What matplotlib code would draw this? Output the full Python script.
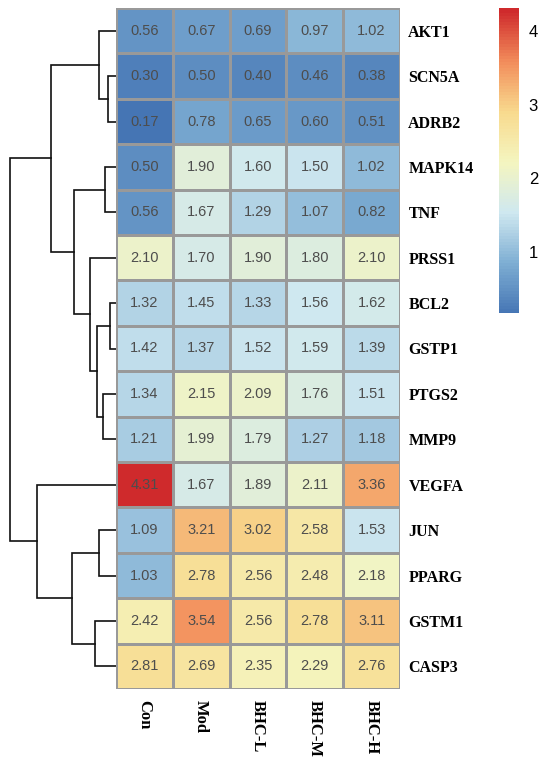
import numpy as np
import matplotlib
matplotlib.use("Agg")
import matplotlib.pyplot as plt
from matplotlib.colors import LinearSegmentedColormap

genes = ["AKT1", "SCN5A", "ADRB2", "MAPK14", "TNF", "PRSS1", "BCL2", "GSTP1",
         "PTGS2", "MMP9", "VEGFA", "JUN", "PPARG", "GSTM1", "CASP3"]
groups = ["Con", "Mod", "BHC-L", "BHC-M", "BHC-H"]

con = [0.56, 0.30, 0.17, 0.50, 0.56, 2.10, 1.32, 1.42, 1.34, 1.21, 4.31, 1.09, 1.03, 2.42, 2.81]
mod = [0.67, 0.50, 0.78, 1.90, 1.67, 1.70, 1.45, 1.37, 2.15, 1.99, 1.67, 3.21, 2.78, 3.54, 2.69]
bhc_l = [0.69, 0.40, 0.65, 1.60, 1.29, 1.90, 1.33, 1.52, 2.09, 1.79, 1.89, 3.02, 2.56, 2.56, 2.35]
bhc_m = [0.97, 0.46, 0.60, 1.50, 1.07, 1.80, 1.56, 1.59, 1.76, 1.27, 2.11, 2.58, 2.48, 2.78, 2.29]
bhc_h = [1.02, 0.38, 0.51, 1.02, 0.82, 2.10, 1.62, 1.39, 1.51, 1.18, 3.36, 1.53, 2.18, 3.11, 2.76]

# row clustering, read off the tree: (left node, right node, height)
# leaves are 0..14 in row order, merged nodes get ids 15, 16, ...
merges = [
    (1, 2, 0.075),     # 15 SCN5A-ADRB2
    (0, 15, 0.16),     # 16
    (3, 4, 0.10),      # 17 MAPK14-TNF
    (6, 7, 0.057),     # 18 BCL2-GSTP1
    (8, 9, 0.12),      # 19 PTGS2-MMP9
    (18, 19, 0.18),    # 20
    (5, 20, 0.25),     # 21
    (17, 21, 0.40),    # 22
    (16, 22, 0.61),    # 23
    (11, 12, 0.16),    # 24 JUN-PPARG
    (13, 14, 0.20),    # 25 GSTM1-CASP3
    (24, 25, 0.42),    # 26
    (10, 26, 0.75),    # 27
    (23, 27, 1.00),    # 28 root
]

data = np.array([con, mod, bhc_l, bhc_m, bhc_h]).T
n_rows, n_cols = data.shape

# RdYlBu-like palette, a bit muted like the picture
cmap = LinearSegmentedColormap.from_list(
    "ph", ["#4575B4", "#7EAED3", "#CFE8F0", "#F4F5C0", "#F8DA8E", "#F28D5B", "#CF2A2C"], N=100)
vmin, vmax = data.min(), data.max()

W, H = 541, 762
fig = plt.figure(figsize=(W / 100, H / 100), dpi=100)


def box(x0, y0, x1, y1):
    return [x0 / W, 1 - y1 / H, (x1 - x0) / W, (y1 - y0) / H]


ax = fig.add_axes(box(116, 8, 400, 689))
mesh = ax.pcolormesh(data, cmap=cmap, vmin=vmin, vmax=vmax,
                     edgecolors="#999999", linewidth=1.0)
ax.set_xlim(0, n_cols)
ax.set_ylim(n_rows, 0)
for i in range(n_rows):
    for j in range(n_cols):
        ax.text(j + 0.5, i + 0.5, f"{data[i, j]:.2f}", ha="center", va="center",
                fontsize=10.5, color="#4d4d4d", family="Liberation Sans")
ax.set_xticks(np.arange(n_cols) + 0.5)
ax.set_xticklabels(groups, rotation=270, va="top", ha="center",
                   family="Liberation Serif", fontweight="bold", fontsize=12)
ax.set_yticks(np.arange(n_rows) + 0.5)
ax.set_yticklabels(genes, family="Liberation Serif", fontweight="bold", fontsize=11.5)
ax.yaxis.tick_right()
ax.tick_params(length=0, pad=6)
ax.tick_params(axis="x", pad=8)
for s in ax.spines.values():
    s.set_visible(False)

# dendrogram
dax = fig.add_axes(box(8, 8, 116, 689))
pos = {i: i + 0.5 for i in range(n_rows)}
hgt = {i: 0.0 for i in range(n_rows)}
for k, (a, b, h) in enumerate(merges):
    node = n_rows + k
    ya, yb = pos[a], pos[b]
    dax.plot([hgt[a], h, h, hgt[b]], [ya, ya, yb, yb], color="#111111", lw=1.2,
             solid_joinstyle="miter")
    pos[node] = (ya + yb) / 2
    hgt[node] = h
dax.set_xlim(1.02, 0)
dax.set_ylim(n_rows, 0)
dax.axis("off")

# colorbar
cax = fig.add_axes(box(499, 8, 519, 313))
cb = fig.colorbar(mesh, cax=cax, ticks=[1, 2, 3, 4])
cb.outline.set_visible(False)
cb.solids.set_edgecolor("face")
cax.tick_params(length=0, labelsize=12, pad=7)
for t in cax.get_yticklabels():
    t.set_family("Liberation Sans")

fig.savefig("out.png", dpi=100)
